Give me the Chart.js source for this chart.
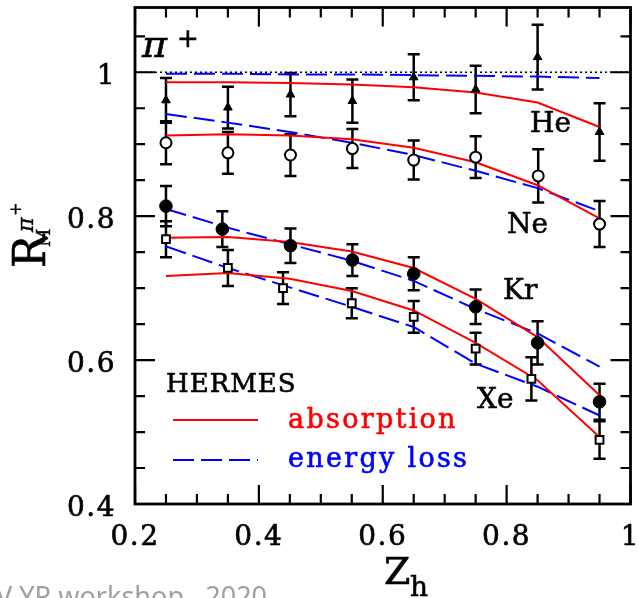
<!DOCTYPE html>
<html><head><meta charset="utf-8">
<script src="https://cdn.jsdelivr.net/npm/chart.js@4.4.1/dist/chart.umd.min.js"></script>
<style>html,body{margin:0;padding:0;background:#fff;overflow:hidden}#c{display:block}</style>
</head><body>
<canvas id="c" width="638" height="598" style="width:638px;height:598px"></canvas>
<script>
// ---------- data ----------
const curveX = [0.25, 0.35, 0.45, 0.55, 0.65, 0.75, 0.85, 0.95];

const heX   = [0.25, 0.35, 0.451, 0.551, 0.65, 0.75, 0.85, 0.95];
const heR   = [0.961, 0.951, 0.969, 0.960, 0.993, 0.976, 1.021, 0.917];
const heErr = [0.031, 0.029, 0.030, 0.030, 0.032, 0.033, 0.045, 0.040];

const neX   = [0.25, 0.35, 0.451, 0.551, 0.65, 0.75, 0.851, 0.95];
const neR   = [0.902, 0.888, 0.885, 0.894, 0.878, 0.882, 0.856, 0.789];
const neErr = [0.030, 0.029, 0.029, 0.027, 0.027, 0.029, 0.037, 0.032];

const krX   = [0.25, 0.341, 0.451, 0.551, 0.65, 0.75, 0.85, 0.95];
const krR   = [0.814, 0.782, 0.759, 0.739, 0.720, 0.674, 0.624, 0.542];
const krErr = [0.028, 0.025, 0.024, 0.022, 0.023, 0.024, 0.030, 0.025];

const xeX   = [0.25, 0.35, 0.439, 0.55, 0.65, 0.75, 0.84, 0.95];
const xeR   = [0.768, 0.728, 0.700, 0.679, 0.660, 0.616, 0.574, 0.489];
const xeErr = [0.025, 0.025, 0.022, 0.021, 0.022, 0.022, 0.030, 0.026];

// model curves
const heAbs = [0.986, 0.986, 0.985, 0.983, 0.979, 0.972, 0.958, 0.924];
const heEl  = [0.998, 0.998, 0.997, 0.997, 0.996, 0.995, 0.994, 0.992];
const neAbs = [0.912, 0.914, 0.912, 0.907, 0.895, 0.875, 0.843, 0.797];
const neEl  = [0.942, 0.930, 0.917, 0.902, 0.885, 0.863, 0.839, 0.807];
const krAbs = [0.770, 0.771, 0.764, 0.751, 0.728, 0.685, 0.632, 0.551];
const krEl  = [0.810, 0.784, 0.761, 0.738, 0.710, 0.671, 0.637, 0.591];
const xeAbs = [0.717, 0.721, 0.713, 0.696, 0.669, 0.624, 0.572, 0.493];
const xeEl  = [0.758, 0.728, 0.701, 0.674, 0.646, 0.595, 0.563, 0.523];

const unityX = [0.2, 1.0];
const unityY = [1.0, 1.0];

// axes
const xMajorTicks = [0.2, 0.4, 0.6, 0.8, 1.0];
const xTickLabels = ['0.2', '0.4', '0.6', '0.8', '1'];
const xMinorTicks = [0.25, 0.3, 0.35, 0.45, 0.5, 0.55, 0.65, 0.7, 0.75, 0.85, 0.9, 0.95];
const yMajorTicks = [0.4, 0.6, 0.8, 1.0];
const yTickLabels = ['0.4', '0.6', '0.8', '1'];
const yMinorTicks = [0.45, 0.5, 0.55, 0.65, 0.7, 0.75, 0.85, 0.9, 0.95, 1.05];

// ---------- chart ----------
const pts = (xs, ys) => xs.map((x, i) => ({x: x, y: ys[i]}));
const RED = 'rgb(255,0,0)', BLUE = 'rgb(0,0,255)';
const lineDs = (ys, dashed) => ({
  data: pts(curveX, ys), showLine: true, pointRadius: 0, borderWidth: 2,
  borderColor: dashed ? BLUE : RED, borderDash: dashed ? [21, 7] : [], fill: false, tension: 0
});
const markerDs = (xs, ys, style, r, filled, name) => ({
  label: name, data: pts(xs, ys), showLine: false, pointStyle: style, pointRadius: r,
  pointBackgroundColor: filled ? '#000' : '#fff', pointBorderColor: '#000',
  pointBorderWidth: filled ? 1 : 2
});

const errSets = [[heX, heR, heErr], [neX, neR, neErr], [krX, krR, krErr], [xeX, xeR, xeErr]];

const FONT = '"DejaVu Serif", serif';

function txt(ctx, s, x, y, w) {
  ctx.fillText(s, x, y);
  ctx.lineWidth = w || 0.6;
  ctx.strokeStyle = ctx.fillStyle;
  ctx.strokeText(s, x, y);
}

const deco = {
  id: 'deco',
  beforeDatasetsDraw(chart) {
    const ctx = chart.ctx, xs = chart.scales.x, ys = chart.scales.y;
    ctx.save();
    ctx.strokeStyle = '#000';
    ctx.lineWidth = 2.5;
    errSets.forEach(([X, Y, E]) => {
      X.forEach((x, i) => {
        const px = xs.getPixelForValue(x);
        const t = ys.getPixelForValue(Y[i] + E[i]);
        const b = ys.getPixelForValue(Y[i] - E[i]);
        ctx.beginPath();
        ctx.moveTo(px, t); ctx.lineTo(px, b);
        ctx.moveTo(px - 6, t); ctx.lineTo(px + 6, t);
        ctx.moveTo(px - 6, b); ctx.lineTo(px + 6, b);
        ctx.stroke();
      });
    });
    ctx.restore();
  },
  afterDraw(chart) {
    const ctx = chart.ctx, xs = chart.scales.x, ys = chart.scales.y;
    const a = chart.chartArea;
    ctx.save();
    // frame
    ctx.strokeStyle = '#000';
    ctx.lineWidth = 2.8;
    ctx.strokeRect(a.left, a.top, a.right - a.left, a.bottom - a.top);
    // ticks
    ctx.lineWidth = 2.2;
    ctx.beginPath();
    const xt = (v, len) => {
      const p = xs.getPixelForValue(v);
      ctx.moveTo(p, a.bottom); ctx.lineTo(p, a.bottom - len);
      ctx.moveTo(p, a.top); ctx.lineTo(p, a.top + len);
    };
    const yt = (v, len) => {
      const p = ys.getPixelForValue(v);
      ctx.moveTo(a.left, p); ctx.lineTo(a.left + len, p);
      ctx.moveTo(a.right, p); ctx.lineTo(a.right - len, p);
    };
    xMajorTicks.forEach(v => xt(v, 19));
    xMinorTicks.forEach(v => xt(v, 10));
    yMajorTicks.forEach(v => yt(v, 20));
    yMinorTicks.forEach(v => yt(v, 10));
    ctx.stroke();

    // tick labels
    ctx.fillStyle = '#000';
    ctx.font = '28px ' + FONT;
    ctx.letterSpacing = '1.5px';
    ctx.textBaseline = 'alphabetic';
    ctx.textAlign = 'center';
    xMajorTicks.forEach((v, i) => {
      txt(ctx, xTickLabels[i], xs.getPixelForValue(v), 545);
    });
    ctx.textAlign = 'right';
    yMajorTicks.forEach((v, i) => {
      txt(ctx, yTickLabels[i], 116, ys.getPixelForValue(v) + 12);
    });
    ctx.letterSpacing = '0px';

    // x axis title Z_h
    ctx.textAlign = 'left';
    ctx.font = '38px ' + FONT;
    txt(ctx, 'Z', 384, 584);
    ctx.font = '28px ' + FONT;
    txt(ctx, 'h', 410, 596);

    // y axis title R_M^{pi+}
    ctx.save();
    ctx.translate(45, 268);
    ctx.rotate(-Math.PI / 2);
    ctx.textAlign = 'left';
    ctx.font = '44px ' + FONT;
    txt(ctx, 'R', 0, 0);
    ctx.font = '18px ' + FONT;
    txt(ctx, 'M', 21, 5, 0.4);
    ctx.font = 'italic 22px ' + FONT;
    txt(ctx, '\u03C0', 36, -12, 0.4);
    ctx.font = '16px ' + FONT;
    ctx.textBaseline = 'middle';
    txt(ctx, '+', 52, -28, 0.4);
    ctx.restore();

    // pi+ label
    ctx.textAlign = 'left';
    ctx.textBaseline = 'alphabetic';
    ctx.font = 'italic 38px ' + FONT;
    txt(ctx, '\u03C0', 142, 57);
    ctx.font = '26px ' + FONT;
    txt(ctx, '+', 177, 47);

    // nucleus labels
    ctx.font = '28px ' + FONT;
    txt(ctx, 'He', 530, 132);
    txt(ctx, 'Ne', 507, 233);
    txt(ctx, 'Kr', 503, 299);
    txt(ctx, 'Xe', 477, 408);

    // legend
    ctx.font = '26px ' + FONT;
    ctx.letterSpacing = '1px';
    txt(ctx, 'HERMES', 166, 392);
    ctx.lineWidth = 2;
    ctx.strokeStyle = RED;
    ctx.beginPath(); ctx.moveTo(173, 420); ctx.lineTo(258, 420); ctx.stroke();
    ctx.strokeStyle = BLUE;
    ctx.setLineDash([21, 7]);
    ctx.beginPath(); ctx.moveTo(173, 460); ctx.lineTo(258, 460); ctx.stroke();
    ctx.setLineDash([]);
    ctx.font = '27px ' + FONT;
    ctx.letterSpacing = '2.3px';
    ctx.fillStyle = RED;
    txt(ctx, 'absorption', 288, 428);
    ctx.fillStyle = BLUE;
    txt(ctx, 'energy loss', 288, 467);
    ctx.letterSpacing = '0px';

    // watermark
    ctx.fillStyle = '#a0a0a0';
    ctx.font = '27px "Noto Sans", sans-serif';
    ctx.fillText('V YR workshop , 2020', -4, 606);
    ctx.restore();
  }
};

new Chart(document.getElementById('c'), {
  type: 'scatter',
  data: {
    datasets: [
      markerDs(krX, krR, 'circle', 6.3, true, 'Kr'),
      markerDs(xeX, xeR, 'rect', 5.5, false, 'Xe'),
      markerDs(neX, neR, 'circle', 5.5, false, 'Ne'),
      markerDs(heX, heR, 'triangle', 5, true, 'He'),
      lineDs(heAbs, false), lineDs(heEl, true),
      lineDs(neAbs, false), lineDs(neEl, true),
      lineDs(krAbs, false), lineDs(krEl, true),
      lineDs(xeAbs, false), lineDs(xeEl, true),
      { data: pts(unityX, unityY), showLine: true, pointRadius: 0, borderWidth: 1.6,
        borderColor: '#000', borderDash: [2, 3] }
    ]
  },
  options: {
    responsive: false, animation: false, devicePixelRatio: 1, events: [],
    layout: { padding: { left: 135, right: 5, top: 6, bottom: 94 } },
    plugins: { legend: { display: false }, tooltip: { enabled: false } },
    scales: {
      x: { type: 'linear', min: 0.2, max: 1.0, display: false },
      y: { type: 'linear', min: 0.4, max: 1.09, display: false }
    }
  },
  plugins: [deco]
});
</script>
</body></html>
